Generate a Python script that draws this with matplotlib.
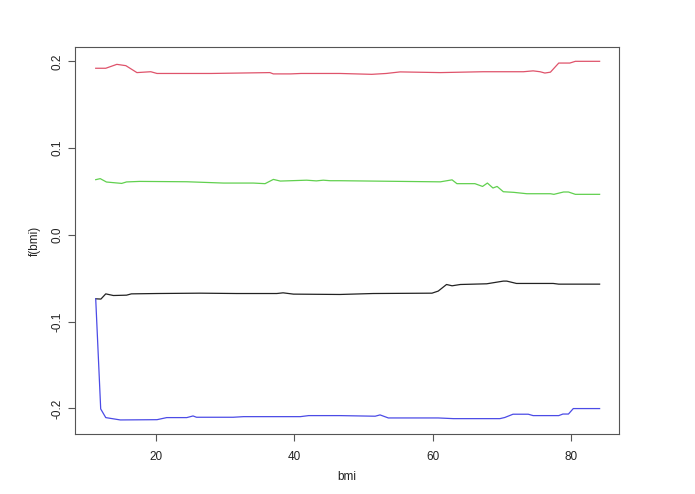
import matplotlib
matplotlib.use("Agg")
import matplotlib.pyplot as plt

# ---- data ----
red_x = [11.35, 12.8, 14.4, 15.7, 17.3, 19.3, 20.2, 28.0, 36.5, 37.0, 39.5, 41.0, 46.6,
         51.2, 53.3, 55.3, 61.1, 67.3, 73.1, 74.5, 75.5, 76.2, 77.0, 78.2, 79.8, 80.6, 84.1]
red_y = [0.192, 0.192, 0.1965, 0.195, 0.187, 0.188, 0.186, 0.186, 0.187, 0.1855, 0.1855, 0.186, 0.186,
         0.185, 0.186, 0.1878, 0.187, 0.188, 0.188, 0.189, 0.188, 0.1865, 0.1875, 0.198, 0.198, 0.200, 0.200]

green_x = [11.35, 12.0, 12.9, 15.1, 15.8, 17.7, 24.5, 29.8, 34.1, 35.8, 37.0, 38.0, 41.8, 43.2, 44.2,
           45.2, 46.6, 61.1, 62.8, 63.5, 66.1, 67.2, 67.9, 68.7, 69.3, 70.2, 71.7, 73.6, 77.0, 77.5,
           78.9, 79.6, 80.6, 84.1]
green_y = [0.0636, 0.0648, 0.0609, 0.0593, 0.061, 0.0616, 0.0612, 0.0597, 0.0597, 0.059, 0.0639, 0.062,
           0.063, 0.0622, 0.063, 0.0624, 0.0624, 0.0611, 0.0634, 0.059, 0.059, 0.0558, 0.0597, 0.054,
           0.0558, 0.0497, 0.049, 0.0474, 0.0474, 0.0467, 0.0494, 0.0494, 0.0467, 0.0467]

black_x = [11.35, 12.1, 12.8, 13.9, 15.8, 16.5, 20.2, 26.4, 31.7, 37.5, 38.4, 39.9, 46.6, 51.4,
           59.9, 60.8, 62.0, 62.8, 64.0, 67.8, 70.2, 70.7, 72.1, 77.4, 78.2, 84.1]
black_y = [-0.0737, -0.074, -0.068, -0.0699, -0.0695, -0.068, -0.0676, -0.0672, -0.0676, -0.0676,
           -0.0668, -0.0683, -0.0687, -0.0676, -0.0672, -0.0648, -0.0572, -0.0587, -0.0572, -0.0564,
           -0.0533, -0.0533, -0.056, -0.056, -0.0568, -0.0568]

blue_x = [11.35, 12.07, 12.8, 14.9, 20.2, 21.6, 24.5, 25.4, 25.9, 31.2, 32.7, 40.9, 42.1, 46.6,
          51.7, 52.4, 53.6, 60.8, 63.0, 69.7, 70.4, 71.6, 73.8, 74.5, 78.2, 78.8, 79.6, 80.3, 84.1]
blue_y = [-0.0737, -0.2006, -0.2106, -0.2133, -0.213, -0.2106, -0.2106, -0.2087, -0.2102, -0.2102,
          -0.2095, -0.2095, -0.2083, -0.2083, -0.209, -0.2075, -0.211, -0.211, -0.2118, -0.2118,
          -0.2105, -0.2067, -0.2067, -0.2083, -0.2083, -0.2065, -0.2065, -0.2002, -0.2002]

x_ticks = [20, 40, 60, 80]
y_ticks = [-0.2, -0.1, 0.0, 0.1, 0.2]
y_ticklabels = ["-0.2", "-0.1", "0.0", "0.1", "0.2"]

# ---- figure ----
plt.rcParams['font.family'] = ['Liberation Sans', 'DejaVu Sans']
fig = plt.figure(figsize=(6.95, 4.94), dpi=100)
ax = fig.add_axes([75/695, 1-434/494, (619-75)/695, (434-47)/494])

ax.plot(red_x, red_y, color='#DF536B', lw=0.9)
ax.plot(green_x, green_y, color='#61D04F', lw=0.9)
ax.plot(black_x, black_y, color='#222222', lw=0.9)
ax.plot(blue_x, blue_y, color='#4B4BE6', lw=0.9)

ax.set_xlim(8.36, 86.9)
ax.set_ylim(-0.2295, 0.2165)

ax.set_xticks(x_ticks)
ax.set_xticklabels([str(t) for t in x_ticks])
ax.set_yticks(y_ticks)
ax.set_yticklabels(y_ticklabels, rotation=90, va='center')

for s in ax.spines.values():
    s.set_color('#555555')
    s.set_linewidth(0.8)
ax.tick_params(axis='both', direction='out', length=5, width=0.8, color='#555555',
               labelsize=8.5, labelcolor='#222222')
ax.tick_params(axis='x', pad=7)
ax.tick_params(axis='y', pad=3.5)

ax.set_xlabel('bmi', fontsize=8.5, color='#222222', va='center')
ax.xaxis.set_label_coords(0.5, -43/387)
ax.set_ylabel('f(bmi)', fontsize=8.5, color='#222222', va='center')
ax.yaxis.set_label_coords(-40/544, 0.5)

fig.savefig('out.png', dpi=100)
